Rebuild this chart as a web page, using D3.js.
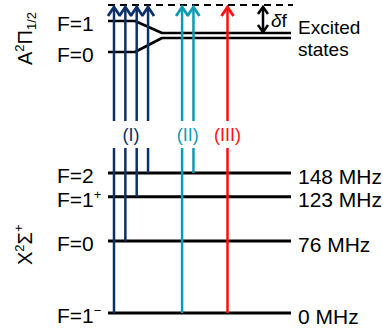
<!DOCTYPE html>
<html>
<head>
<meta charset="utf-8">
<script src="https://cdn.jsdelivr.net/npm/d3@7"></script>
<style>
  body { margin: 0; background: #fff; }
  svg { display: block; font-family: "Liberation Sans", Arial, sans-serif; }
</style>
</head>
<body>
<svg id="chart" width="383" height="333"></svg>
<script>
// ground state hyperfine levels (X2Σ+)
const groundNames = ["F=2", "F=1", "F=0", "F=1"];
const groundSups = ["", "+", "", "\u2212"];
const groundFreqs = [148, 123, 76, 0];

// excited state levels (A2Π1/2)
const excitedNames = ["F=1", "F=0"];

// laser transitions: group + starting ground level (index into groundNames)
const laserGroups = ["(I)", "(I)", "(I)", "(I)", "(II)", "(II)", "(III)"];
const laserFrom = [3, 2, 1, 0, 3, 0, 3];
const groupNames = ["(I)", "(II)", "(III)"];
const groupColors = ["#0c3068", "#0e9bb2", "#ff1010"];

const svg = d3.select('#chart');
const x0 = 108, x1 = 291;

// scales
const y = d3.scaleLinear().domain([0, 148]).range([313, 173]);
const yExc = d3.scalePoint().domain(excitedNames).range([21, 52]);
const yMerged = d3.scalePoint().domain(excitedNames).range([33, 38]);
const color = d3.scaleOrdinal().domain(groupNames).range(groupColors);

// slot index: one step per laser, extra 2 slots between groups
const slots = laserGroups.map((g, i) => i + 2 * groupNames.indexOf(g));
const x = d3.scaleLinear().domain([0, d3.max(slots)]).range([114, 227.5]);

const topY = 5;
const tipY = 7;

// dashed virtual level
svg.append('line')
  .attr('x1', x0).attr('x2', 293).attr('y1', topY).attr('y2', topY)
  .attr('stroke', '#000').attr('stroke-width', 2)
  .attr('stroke-dasharray', '7,5');

// ground levels
svg.selectAll('line.ground')
  .data(groundFreqs)
  .join('line')
  .attr('class', 'ground')
  .attr('x1', x0).attr('x2', x1)
  .attr('y1', d => y(d)).attr('y2', d => y(d))
  .attr('stroke', '#000').attr('stroke-width', 3);

// excited levels, merging into the unresolved pair
const lineGen = d3.line();
svg.selectAll('path.exc')
  .data(excitedNames)
  .join('path')
  .attr('class', 'exc')
  .attr('d', d => lineGen([[x0, yExc(d)], [135, yExc(d)], [162, yMerged(d)], [x1, yMerged(d)]]))
  .attr('fill', 'none').attr('stroke', '#000').attr('stroke-width', 2.6)
  .attr('stroke-linejoin', 'round');

// left labels
const fs = 21;
const gl = svg.selectAll('text.glabel')
  .data(groundNames)
  .join('text')
  .attr('class', 'glabel')
  .attr('x', 57)
  .attr('y', (d, i) => y(groundFreqs[i]) + 10)
  .attr('font-size', fs);
gl.append('tspan').text(d => d);
gl.append('tspan')
  .attr('font-size', 13)
  .attr('dy', -8)
  .text((d, i) => groundSups[i]);

svg.selectAll('text.elabel')
  .data(excitedNames)
  .join('text')
  .attr('class', 'elabel')
  .attr('x', 57)
  .attr('y', d => yExc(d) + 9.5)
  .attr('font-size', fs)
  .text(d => d);

// right frequency labels
svg.selectAll('text.freq')
  .data(groundFreqs)
  .join('text')
  .attr('class', 'freq')
  .attr('x', 298)
  .attr('y', d => y(d) + 10.5)
  .attr('font-size', fs)
  .text(d => d + ' MHz');

// "Excited states" (one text, wrapped over two lines)
const ex = svg.append('text').attr('font-size', 19);
ex.append('tspan').attr('x', 298).attr('y', 34).text('Excited');
ex.append('tspan').attr('x', 298).attr('y', 55.5).text('states');

// rotated state labels
const aLab = svg.append('text')
  .attr('transform', 'translate(32,65) rotate(-90)')
  .attr('font-size', 20);
aLab.append('tspan').text('A');
aLab.append('tspan').attr('font-size', 13).attr('dy', -8).text('2');
aLab.append('tspan').attr('dy', 8).text('\u03A0');
aLab.append('tspan').attr('font-size', 13).attr('dy', 4).text('1/2');

const xLab = svg.append('text')
  .attr('transform', 'translate(32,265) rotate(-90)')
  .attr('font-size', 20);
xLab.append('tspan').text('X');
xLab.append('tspan').attr('font-size', 13).attr('dy', -8).text('2');
xLab.append('tspan').attr('dy', 8).text('\u03A3');
xLab.append('tspan').attr('font-size', 13).attr('dy', -9).text('+');

// laser arrows (broken around the group labels)
const gapTop = 121, gapBot = 148;
const lasers = laserGroups.map((g, i) => ({ g, from: laserFrom[i], slot: slots[i] }));

const arr = svg.selectAll('g.laser')
  .data(lasers)
  .join('g')
  .attr('class', 'laser')
  .attr('stroke', d => color(d.g))
  .attr('stroke-width', 2.5)
  .attr('fill', 'none');

arr.append('line')
  .attr('x1', d => x(d.slot)).attr('x2', d => x(d.slot))
  .attr('y1', d => y(groundFreqs[d.from])).attr('y2', gapBot);
arr.append('line')
  .attr('x1', d => x(d.slot)).attr('x2', d => x(d.slot))
  .attr('y1', gapTop).attr('y2', tipY + 1);
arr.append('path')
  .attr('stroke-width', 2.8)
  .attr('d', d => lineGen([[x(d.slot) - 6, tipY + 9], [x(d.slot), tipY], [x(d.slot) + 6, tipY + 9]]));

// group labels
svg.selectAll('text.group')
  .data(groupNames)
  .join('text')
  .attr('class', 'group')
  .attr('x', g => {
    const s = slots.filter((_, i) => laserGroups[i] === g);
    return (x(d3.min(s)) + x(d3.max(s))) / 2;
  })
  .attr('y', 140.5)
  .attr('text-anchor', 'middle')
  .attr('font-size', 18)
  .attr('fill', g => color(g))
  .text(g => g);

// detuning δf double arrow
const dx = 263, dTop = 7, dBot = 32;
const df = svg.append('g').attr('stroke', '#000').attr('stroke-width', 2.5).attr('fill', 'none');
df.append('line').attr('x1', dx).attr('x2', dx).attr('y1', dTop + 1).attr('y2', dBot - 1);
df.append('path').attr('d', lineGen([[dx - 5, dTop + 7], [dx, dTop], [dx + 5, dTop + 7]]));
df.append('path').attr('d', lineGen([[dx - 5, dBot - 7], [dx, dBot], [dx + 5, dBot - 7]]));

const dft = svg.append('text').attr('x', 271).attr('y', 27).attr('font-size', 19);
dft.append('tspan').attr('font-style', 'italic').text('\u03B4');
dft.append('tspan').text('f');
</script>
</body>
</html>
